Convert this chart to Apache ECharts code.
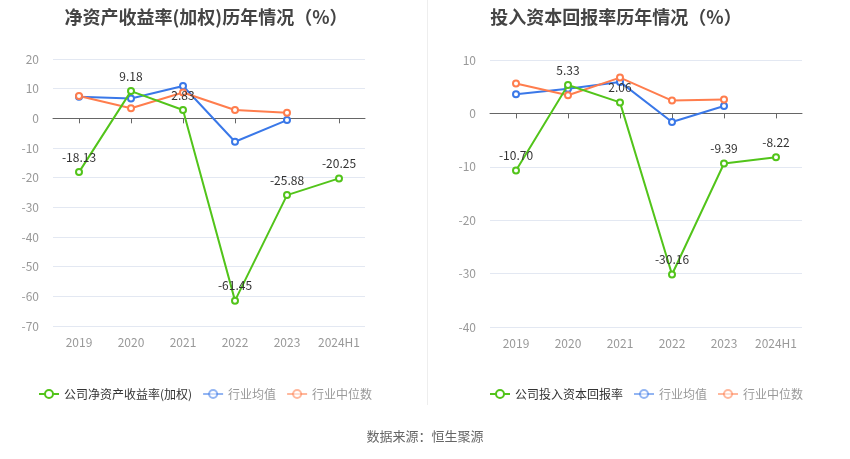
<!DOCTYPE html>
<html>
<head>
<meta charset="utf-8">
<script src="https://cdn.jsdelivr.net/npm/echarts@6/dist/echarts.min.js"></script>
<style>
html, body { margin: 0; padding: 0; background: #fff; }
#chart { width: 850px; height: 459px; }
</style>
</head>
<body>
<div id="chart"></div>
<script>
const years = ['2019', '2020', '2021', '2022', '2023', '2024H1']

// 净资产收益率(加权)
const roeCompany = [-18.13, 9.18, 2.83, -61.45, -25.88, -20.25]
const roeAvg = [7.3, 6.7, 10.9, -7.9, -0.6, null]
const roeMedian = [7.5, 3.4, 8.7, 2.8, 1.9, null]

// 投入资本回报率
const roicCompany = [-10.70, 5.33, 2.06, -30.16, -9.39, -8.22]
const roicAvg = [3.6, 4.6, 5.9, -1.6, 1.4, null]
const roicMedian = [5.6, 3.4, 6.7, 2.4, 2.6, null]

const green = '#52c41a'
const blue = '#3a78e8'
const orange = '#ff7d4d'
const font = '"Noto Sans CJK SC", "Noto Sans", sans-serif'

const myChart = echarts.init(document.getElementById('chart'), null, { renderer: 'canvas' })

const lineSeries = (name, data, color, xi, yi, withLabel) => ({
	name: name,
	type: 'line',
	data: data,
	xAxisIndex: xi,
	yAxisIndex: yi,
	symbol: 'emptyCircle',
	symbolSize: 6,
	showSymbol: true,
	lineStyle: { color: color, width: 2 },
	itemStyle: { color: color, borderWidth: 2 },
	label: withLabel
		? { show: true, position: 'top', color: '#333', fontSize: 12, fontFamily: font, formatter: (p) => p.value.toFixed(2) }
		: { show: false },
	z: withLabel ? 3 : 2,
})

const bottomAxis = (gi) => ({
	type: 'category',
	gridIndex: gi,
	data: years,
	boundaryGap: true,
	position: 'bottom',
	axisLine: { show: false, onZero: false },
	axisTick: { show: false },
	axisLabel: { color: '#999', fontSize: 12, fontFamily: font, margin: 10, interval: 0 },
})

const zeroAxis = (gi) => ({
	type: 'category',
	gridIndex: gi,
	data: years,
	boundaryGap: true,
	position: 'bottom',
	axisLine: { show: true, onZero: true, lineStyle: { color: '#666' } },
	axisTick: { show: true, alignWithLabel: true, interval: 0, length: 5, lineStyle: { color: '#666' } },
	axisLabel: { show: false },
})

const valueAxis = (gi, min, max) => ({
	type: 'value',
	gridIndex: gi,
	min: min,
	max: max,
	interval: 10,
	axisLine: { show: false },
	axisTick: { show: false },
	axisLabel: { color: '#999', fontSize: 12, fontFamily: font, margin: 14 },
	splitLine: { lineStyle: { color: '#e3e8f2' } },
})

const legendData = (first) => [
	{ name: first, textStyle: { color: '#333' } },
	{ name: '行业均值', itemStyle: { opacity: 0.55 }, lineStyle: { opacity: 0.55 }, textStyle: { color: '#999' } },
	{ name: '行业中位数', itemStyle: { opacity: 0.55 }, lineStyle: { opacity: 0.55 }, textStyle: { color: '#999' } },
]

let option = {
	animation: false,
	color: [green, blue, orange],
	title: [
		{
			text: '净资产收益率(加权)历年情况（%）',
			left: 201,
			textAlign: 'center',
			top: 3,
			textStyle: { fontSize: 18, fontWeight: 'bold', color: '#444', fontFamily: font },
		},
		{
			text: '投入资本回报率历年情况（%）',
			left: 611,
			textAlign: 'center',
			top: 3,
			textStyle: { fontSize: 18, fontWeight: 'bold', color: '#444', fontFamily: font },
		},
	],
	legend: [
		{
			left: 33,
			top: 383,
			itemWidth: 20,
			itemHeight: 10,
			itemGap: 10,
			textStyle: { fontSize: 12, fontFamily: font },
			data: legendData('公司净资产收益率(加权)'),
		},
		{
			left: 484,
			top: 383,
			itemWidth: 20,
			itemHeight: 10,
			itemGap: 10,
			textStyle: { fontSize: 12, fontFamily: font },
			data: legendData('公司投入资本回报率'),
		},
	],
	grid: [
		{ left: 53, width: 312, top: 59, height: 267 },
		{ left: 490, width: 312, top: 60, height: 267 },
	],
	xAxis: [bottomAxis(0), zeroAxis(0), bottomAxis(1), zeroAxis(1)],
	yAxis: [valueAxis(0, -70, 20), valueAxis(1, -40, 10)],
	series: [
		lineSeries('行业均值', roeAvg, blue, 0, 0, false),
		lineSeries('行业中位数', roeMedian, orange, 0, 0, false),
		lineSeries('公司净资产收益率(加权)', roeCompany, green, 0, 0, true),
		lineSeries('行业均值', roicAvg, blue, 2, 1, false),
		lineSeries('行业中位数', roicMedian, orange, 2, 1, false),
		lineSeries('公司投入资本回报率', roicCompany, green, 2, 1, true),
	],
	graphic: [
		{
			type: 'line',
			shape: { x1: 427.5, y1: 0, x2: 427.5, y2: 405 },
			style: { stroke: '#eee', lineWidth: 1 },
		},
		{
			type: 'text',
			left: 'center',
			top: 430,
			style: { text: '数据来源：恒生聚源', fill: '#666', fontSize: 13, fontFamily: font },
		},
	],
}
myChart.setOption(option)

window.addEventListener('resize', () => {
	myChart.resize()
})
</script>
</body>
</html>
